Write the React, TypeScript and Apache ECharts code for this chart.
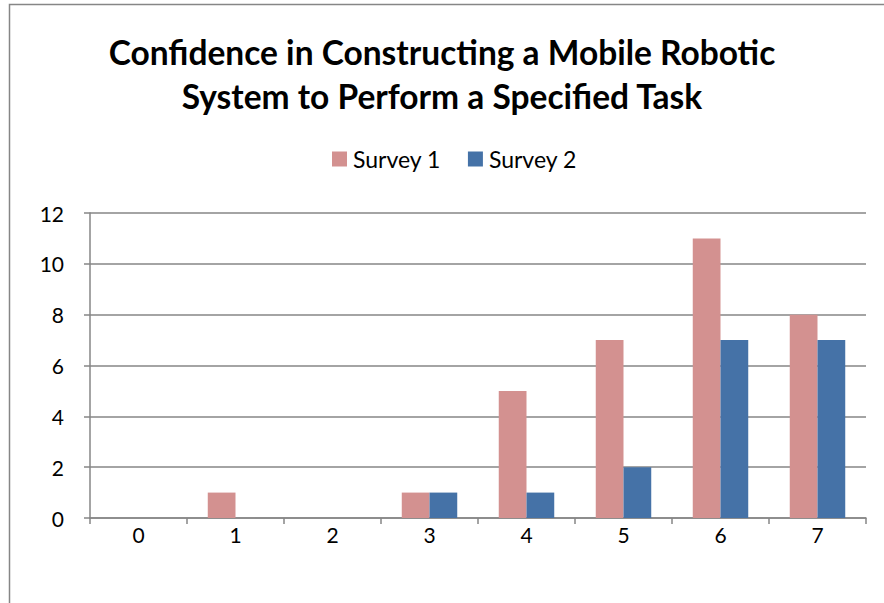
import React, { useEffect, useRef } from "react";
import * as echarts from "echarts";

const categories = ["0", "1", "2", "3", "4", "5", "6", "7"];
const survey1 = [0, 1, 0, 1, 5, 7, 11, 8];
const survey2 = [0, 0, 0, 1, 1, 2, 7, 7];
const titleText = "Confidence in Constructing a Mobile Robotic\nSystem to Perform a Specified Task";

export default function App() {
  const ref = useRef<HTMLDivElement>(null);
  useEffect(() => {
    if (!ref.current) return;
    const chart = echarts.init(ref.current, null, { renderer: "svg" });
    const font = "Lato, 'Open Sans', sans-serif";
    chart.setOption({
      animation: false,
      backgroundColor: "#ffffff",
      graphic: [
        {
          type: "rect",
          shape: { x: 9.5, y: 4.5, width: 900, height: 700 },
          style: { fill: "none", stroke: "#868686", lineWidth: 1.5 },
          silent: true,
        },
      ],
      title: {
        text: titleText,
        left: "center",
        top: 25,
        textStyle: {
          fontFamily: font,
          fontWeight: "bold",
          fontSize: 33.5,
          lineHeight: 44,
          color: "#000000",
        },
      },
      legend: {
        top: 147,
        left: 332,
        padding: 0,
        itemWidth: 15,
        itemHeight: 15,
        itemGap: 27,
        icon: "rect",
        textStyle: { fontFamily: font, fontSize: 23, lineHeight: 24, color: "#000000", padding: [0, 0, 0, 1] },
        data: ["Survey 1", "Survey 2"],
      },
      grid: { left: 90, right: 18, top: 213, bottom: 85, containLabel: false },
      xAxis: {
        type: "category",
        data: categories,
        boundaryGap: true,
        axisLine: { lineStyle: { color: "#868686", width: 1.5 } },
        axisTick: { show: true, alignWithLabel: false, length: 6, inside: false, lineStyle: { color: "#868686", width: 1.5 } },
        axisLabel: { fontFamily: font, fontSize: 21, color: "#000000", margin: 6 },
        splitLine: { show: false },
      },
      yAxis: {
        type: "value",
        min: 0,
        max: 12,
        interval: 2,
        axisLine: { show: true, lineStyle: { color: "#868686", width: 1.5 } },
        axisTick: { show: true, length: 6, lineStyle: { color: "#868686", width: 1.5 } },
        axisLabel: { fontFamily: font, fontSize: 21, color: "#000000", margin: 26 },
        splitLine: { show: true, lineStyle: { color: "#868686", width: 1.5 } },
      },
      series: [
        {
          name: "Survey 1",
          type: "bar",
          data: survey1,
          barWidth: "28.6%",
          barGap: "0%",
          itemStyle: { color: "#D39190" },
        },
        {
          name: "Survey 2",
          type: "bar",
          data: survey2,
          barWidth: "28.6%",
          barGap: "0%",
          itemStyle: { color: "#4572A7" },
        },
      ],
    });
    return () => chart.dispose();
  }, []);
  return (
    <div
      ref={ref}
      style={{ position: "fixed", left: 0, top: 0, width: 884, height: 603 }}
    />
  );
}
